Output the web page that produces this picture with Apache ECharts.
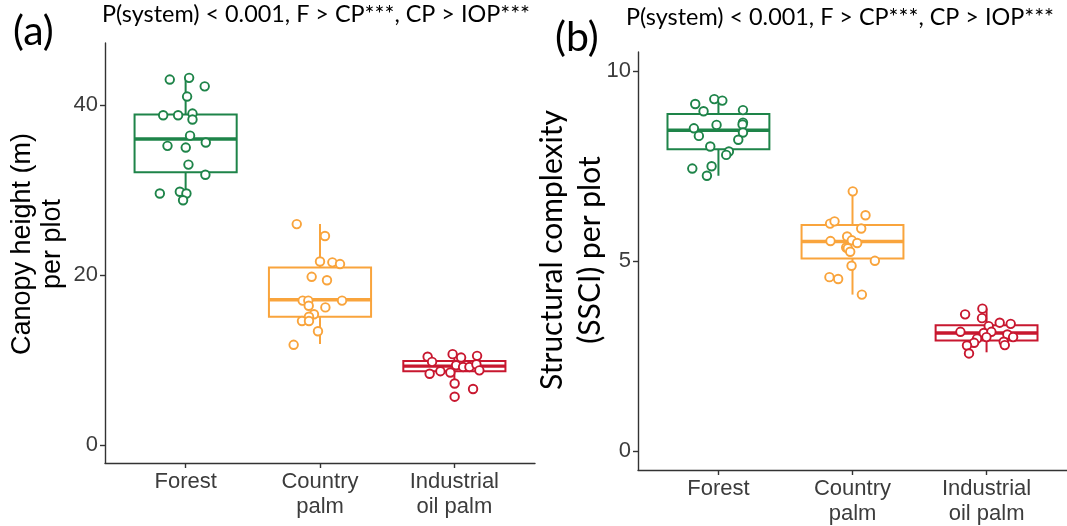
<!DOCTYPE html>
<html>
<head>
<meta charset="utf-8">
<script src="https://cdn.jsdelivr.net/npm/echarts@6/dist/echarts.min.js"></script>
<style>
html,body{margin:0;padding:0;background:#fff;}
#chart{width:1067px;height:526px;}
</style>
</head>
<body>
<div id="chart"></div>
<script>
// ---------- DATA ----------
const categories = ['Forest', 'Country\npalm', 'Industrial\noil palm'];
const groupColors = ['#1e8449', '#f9a43c', '#c8172f'];

// Panel (a): canopy height (m) — box stats [min, Q1, median, Q3, max]
const heightBoxForest = [28.8, 32.1, 36.0, 38.9, 43.2];
const heightBoxCountry = [11.9, 15.1, 17.1, 20.9, 26.0];
const heightBoxIndustrial = [7.3, 8.7, 9.3, 9.9, 10.6];

// Panel (a): individual plots (values and horizontal jitter)
const heightForest = [43.0, 43.2, 42.2, 41.0, 38.8, 38.8, 39.0, 38.3, 36.4, 35.2, 35.0, 35.6, 33.0, 31.8, 29.6, 29.8, 29.6, 28.8];
const heightForestJitter = [-0.118, 0.026, 0.142, 0.011, -0.167, -0.056, 0.051, 0.051, 0.033, -0.135, 0.001, 0.150, 0.021, 0.147, -0.192, -0.043, 0.006, -0.019];
const heightCountry = [26.0, 24.6, 21.6, 21.5, 21.3, 19.8, 19.4, 17.0, 17.0, 16.4, 17.0, 16.2, 15.4, 15.1, 14.6, 14.6, 13.4, 11.8];
const heightCountryJitter = [-0.173, 0.037, 0.0, 0.092, 0.149, -0.062, 0.052, -0.129, -0.087, -0.084, 0.164, 0.040, -0.045, -0.082, -0.134, -0.082, -0.015, -0.196];
const heightIndustrial = [10.4, 9.8, 10.7, 10.3, 10.5, 9.4, 9.2, 9.2, 9.5, 8.8, 8.4, 8.7, 8.55, 7.25, 6.6, 5.7];
const heightIndustrialJitter = [-0.199, -0.166, -0.013, 0.050, 0.169, 0.013, 0.065, 0.112, 0.164, 0.186, -0.184, -0.104, -0.030, 0.002, 0.139, 0.002];

// Panel (b): structural complexity (SSCI) — box stats
const ssciBoxForest = [7.25, 7.95, 8.45, 8.88, 9.27];
const ssciBoxCountry = [4.12, 5.07, 5.52, 5.95, 6.84];
const ssciBoxIndustrial = [2.60, 2.91, 3.11, 3.31, 3.75];

const ssciForest = [9.14, 9.27, 9.23, 8.95, 8.98, 8.65, 8.60, 8.59, 8.50, 8.39, 8.30, 8.20, 8.02, 7.89, 7.80, 7.44, 7.50, 7.25];
const ssciForestJitter = [-0.173, -0.031, 0.029, -0.111, 0.183, 0.183, 0.180, -0.014, -0.183, 0.183, -0.146, 0.148, -0.061, 0.078, 0.058, -0.195, -0.051, -0.086];
const ssciCountry = [6.84, 6.21, 5.99, 6.05, 5.86, 5.65, 5.53, 5.55, 5.48, 5.36, 5.34, 5.25, 5.01, 4.88, 4.58, 4.53, 4.12];
const ssciCountryJitter = [0.002, 0.097, -0.167, -0.134, 0.065, -0.040, -0.164, -0.005, 0.035, -0.047, -0.035, -0.017, 0.167, -0.007, -0.172, -0.107, 0.070];
const ssciIndustrial = [3.75, 3.60, 3.50, 3.38, 3.35, 3.29, 3.14, 3.11, 3.14, 3.07, 3.00, 3.00, 2.96, 2.85, 2.88, 2.79, 2.78, 2.57];
const ssciIndustrialJitter = [-0.031, -0.160, -0.034, 0.098, 0.180, 0.016, -0.195, -0.021, 0.036, 0.155, 0.198, -0.001, -0.071, -0.093, 0.128, 0.136, -0.146, -0.131];

const heightTicks = [0, 20, 40];
const ssciTicks = [0, 5, 10];
const titleText = 'P(system) < 0.001, F > CP***, CP > IOP***';

// ---------- BUILD ----------
function boxRows(stats) {
  return stats.map((s, i) => [i].concat(s));
}
function points(groups) {
  const out = [];
  groups.forEach((g, i) => {
    g.values.forEach((v, k) => {
      out.push({ value: [i + g.jitter[k], v], itemStyle: { borderColor: groupColors[i] } });
    });
  });
  return out;
}
function renderBox(params, api) {
  const x = api.value(0);
  const color = groupColors[x];
  const hw = 0.38;
  const pMin = api.coord([x, api.value(1)]);
  const pQ1 = api.coord([x, api.value(2)]);
  const pMed = api.coord([x, api.value(3)]);
  const pQ3 = api.coord([x, api.value(4)]);
  const pMax = api.coord([x, api.value(5)]);
  const left = api.coord([x - hw, api.value(3)])[0];
  const right = api.coord([x + hw, api.value(3)])[0];
  const lw = 2;
  return {
    type: 'group',
    children: [
      { type: 'line', shape: { x1: pMax[0], y1: pMax[1], x2: pQ3[0], y2: pQ3[1] }, style: { stroke: color, lineWidth: lw } },
      { type: 'line', shape: { x1: pQ1[0], y1: pQ1[1], x2: pMin[0], y2: pMin[1] }, style: { stroke: color, lineWidth: lw } },
      { type: 'rect', shape: { x: left, y: pQ3[1], width: right - left, height: pQ1[1] - pQ3[1] }, style: { stroke: color, fill: 'rgba(255,255,255,0)', lineWidth: lw } },
      { type: 'line', shape: { x1: left, y1: pMed[1], x2: right, y2: pMed[1] }, style: { stroke: color, lineWidth: 3.4 } }
    ]
  };
}

const axisColor = '#333';
const labelColor = '#3c3c3c';
const sansFont = '"Liberation Sans", Arial, sans-serif';
const calFont = 'Lato, "Open Sans", sans-serif';

function xAxisCfg(gridIndex) {
  return {
    type: 'value', gridIndex: gridIndex, min: -0.6, max: 2.6,
    axisLine: { show: true, onZero: false, lineStyle: { color: axisColor, width: 1.4 } },
    axisTick: { show: true, length: 5, customValues: [0, 1, 2], lineStyle: { color: axisColor, width: 1.4 } },
    axisLabel: {
      show: true, customValues: [0, 1, 2], margin: 6,
      formatter: v => categories[Math.round(v)],
      fontSize: 22, lineHeight: 25, color: labelColor, fontFamily: sansFont
    },
    splitLine: { show: false }
  };
}
function yAxisCfg(gridIndex, min, max, ticks) {
  return {
    type: 'value', gridIndex: gridIndex, min: min, max: max,
    axisLine: { show: true, onZero: false, lineStyle: { color: axisColor, width: 1.4 } },
    axisTick: { show: true, length: 5, customValues: ticks, lineStyle: { color: axisColor, width: 1.4 } },
    axisLabel: { show: true, customValues: ticks, margin: 7, fontSize: 22, color: labelColor, fontFamily: sansFont },
    splitLine: { show: false }
  };
}

const option = {
  animation: false,
  backgroundColor: '#fff',
  grid: [
    { left: 105, top: 43, width: 430, height: 420 },
    { left: 638, top: 52, width: 429, height: 420 }
  ],
  xAxis: [xAxisCfg(0), xAxisCfg(1)],
  yAxis: [yAxisCfg(0, -2.1, 47.3, heightTicks), yAxisCfg(1, -0.5, 10.51, ssciTicks)],
  graphic: [
    { type: 'text', x: 13, y: 11, style: { text: '(a)', font: '41px ' + calFont, fill: '#000' } },
    { type: 'text', x: 102, y: 3, style: { text: titleText, font: '23.4px ' + calFont, fill: '#000' } },
    { type: 'text', x: 555, y: 17, style: { text: '(b)', font: '41px ' + calFont, fill: '#000' } },
    { type: 'text', x: 626, y: 6, style: { text: titleText, font: '23.4px ' + calFont, fill: '#000' } },
    { type: 'text', x: 38, y: 244, rotation: Math.PI / 2,
      style: { text: 'Canopy height (m)\nper plot', font: '27px ' + sansFont, lineHeight: 30, align: 'center', verticalAlign: 'middle', fill: '#000' } },
    { type: 'text', x: 571, y: 250, rotation: Math.PI / 2,
      style: { text: 'Structural complexity\n(SSCI) per plot', font: '30px ' + calFont, lineHeight: 38, align: 'center', verticalAlign: 'middle', fill: '#000' } }
  ],
  series: [
    {
      type: 'custom', xAxisIndex: 0, yAxisIndex: 0, renderItem: renderBox,
      encode: { x: 0, y: [1, 2, 3, 4, 5] },
      data: boxRows([heightBoxForest, heightBoxCountry, heightBoxIndustrial]), z: 2
    },
    {
      type: 'scatter', xAxisIndex: 0, yAxisIndex: 0, symbol: 'circle', symbolSize: 8.5,
      itemStyle: { color: '#fff', borderWidth: 1.9, opacity: 1 },
      data: points([
        { values: heightForest, jitter: heightForestJitter },
        { values: heightCountry, jitter: heightCountryJitter },
        { values: heightIndustrial, jitter: heightIndustrialJitter }
      ]), z: 3
    },
    {
      type: 'custom', xAxisIndex: 1, yAxisIndex: 1, renderItem: renderBox,
      encode: { x: 0, y: [1, 2, 3, 4, 5] },
      data: boxRows([ssciBoxForest, ssciBoxCountry, ssciBoxIndustrial]), z: 2
    },
    {
      type: 'scatter', xAxisIndex: 1, yAxisIndex: 1, symbol: 'circle', symbolSize: 8.5,
      itemStyle: { color: '#fff', borderWidth: 1.9, opacity: 1 },
      data: points([
        { values: ssciForest, jitter: ssciForestJitter },
        { values: ssciCountry, jitter: ssciCountryJitter },
        { values: ssciIndustrial, jitter: ssciIndustrialJitter }
      ]), z: 3
    }
  ]
};

const chart = echarts.init(document.getElementById('chart'), null, { renderer: 'canvas' });
chart.setOption(option);
</script>
</body>
</html>
